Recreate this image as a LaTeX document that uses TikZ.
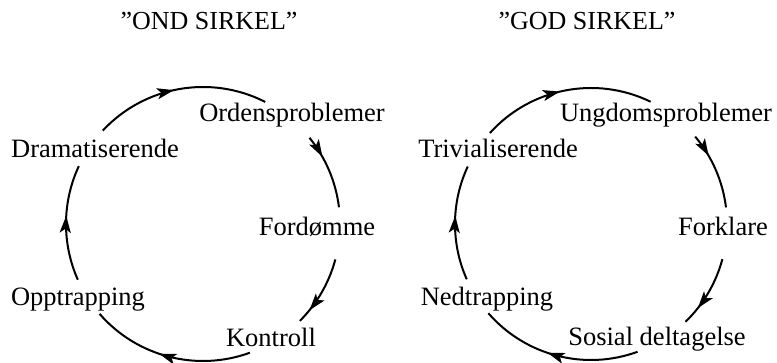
\documentclass[tikz,border=0pt]{standalone}
\usepackage{fontspec}
\setmainfont{Liberation Serif}
\usetikzlibrary{arrows.meta,decorations.markings,calc}
\begin{document}
\begin{tikzpicture}[x=1pt,y=1pt,
  lbl/.style={font=\fontsize{26.5}{30}\selectfont, inner sep=0pt, anchor=base},
  ttl/.style={font=\fontsize{26}{30}\selectfont, inner sep=0pt, anchor=base},
  cyc/.style={line width=2pt},
  cyctip/.tip={Stealth[length=17pt,width=11pt,inset=4pt]},
  arrat/.style={postaction={decorate},decoration={markings,mark=at position #1 with {\arrow{cyctip}}}}
]
\useasboundingbox (0,0) rectangle (777,363);
% centres
\coordinate (cL) at (203,139);
\coordinate (cR) at (591,139);
% titles
\node[ttl] (tL) at (209,333) {”OND SIRKEL”};
\node[ttl] (tR) at (587,333) {”GOD SIRKEL”};
% left labels
\node[lbl] (ord) at (292,241) {Ordensproblemer};
\node[lbl] (dra) at (95,205) {Dramatiserende};
\node[lbl] (ford) at (317,127) {Fordømme};
\node[lbl] (opp) at (78,57) {Opptrapping};
\node[lbl] (kon) at (271,16) {Kontroll};
% right labels
\node[lbl] (ung) at (666,241) {Ungdomsproblemer};
\node[lbl] (tri) at (498,205) {Trivialiserende};
\node[lbl] (fork) at (723,127) {Forklare};
\node[lbl] (ned) at (487,57) {Nedtrapping};
\node[lbl] (sos) at (657,17) {Sosial deltagelse};
% left arcs
\draw[cyc,arrat=0.47] ($(cL)+(137:137)$) arc[start angle=137,end angle=63,radius=137];
\draw[cyc,arrat=0.3] ($(cL)+(39:137)$) arc[start angle=39,end angle=7,radius=137];
\draw[cyc,arrat=0.8] ($(cL)+(-15:137)$) arc[start angle=-15,end angle=-45,radius=137];
\draw[cyc,arrat=0.56] ($(cL)+(-70:137)$) arc[start angle=-70,end angle=-139,radius=137];
\draw[cyc,arrat=0.56] ($(cL)+(-156:137)$) arc[start angle=-156,end angle=-205,radius=137];
% right arcs
\draw[cyc,arrat=0.47] ($(cR)+(138:136)$) arc[start angle=138,end angle=64,radius=136];
\draw[cyc,arrat=0.3] ($(cR)+(40:136)$) arc[start angle=40,end angle=7,radius=136];
\draw[cyc,arrat=0.75] ($(cR)+(-15:136)$) arc[start angle=-15,end angle=-46,radius=136];
\draw[cyc,arrat=0.56] ($(cR)+(-70:136)$) arc[start angle=-70,end angle=-139,radius=136];
\draw[cyc,arrat=0.56] ($(cR)+(-156:136)$) arc[start angle=-156,end angle=-205,radius=136];
\end{tikzpicture}
\end{document}
